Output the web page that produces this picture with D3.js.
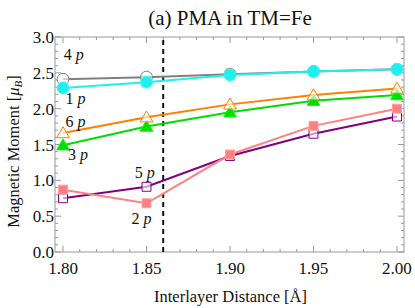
<!DOCTYPE html>
<html>
<head>
<meta charset="utf-8">
<script src="https://cdn.jsdelivr.net/npm/d3@7"></script>
<style>
  body { margin: 0; background: #fff; }
</style>
</head>
<body>
<div id="chart"></div>
<script>
// Interlayer distances (x) and per-layer moments
const distances = [1.80, 1.85, 1.90, 1.95, 2.00];
const p1 = [2.29, 2.37, 2.47, 2.52, 2.55];
const p2 = [0.87, 0.68, 1.36, 1.76, 2.00];
const p3 = [1.49, 1.75, 1.95, 2.11, 2.19];
const p4 = [2.41, 2.44, 2.48, 2.52, 2.55];
const p5 = [0.75, 0.91, 1.34, 1.65, 1.89];
const p6 = [1.66, 1.88, 2.06, 2.19, 2.28];
const xTicks = [1.80, 1.85, 1.90, 1.95, 2.00];
const yTicks = [0.0, 0.5, 1.0, 1.5, 2.0, 2.5, 3.0];
const criticalDistance = 1.86;

const width = 415, height = 308;
const margin = {top: 37, right: 11, bottom: 56, left: 55};

const svg = d3.select('#chart')
    .append('svg')
    .attr('width', width)
    .attr('height', height)
    .style('font-family', "'Liberation Serif', 'Times New Roman', 'DejaVu Serif', serif");

const x = d3.scaleLinear()
    .domain([1.7952, 2.0042])
    .range([margin.left, width - margin.right]);

const y = d3.scaleLinear()
    .domain([0, 3])
    .range([height - margin.bottom, margin.top]);

const frameColor = '#999';

// Frame
svg.append('rect')
    .attr('x', margin.left)
    .attr('y', margin.top)
    .attr('width', width - margin.left - margin.right)
    .attr('height', height - margin.top - margin.bottom)
    .attr('fill', 'none')
    .attr('stroke', frameColor)
    .attr('stroke-width', 1);

// Ticks (inward, mirrored on top/right)
const ticks = svg.append('g').attr('stroke', frameColor).attr('stroke-width', 1);
const xMinor = d3.range(180, 201).map(d => d / 100);
const yMinor = d3.range(0, 31).map(d => d / 10);
const x0 = margin.left, x1 = width - margin.right;
const y0 = height - margin.bottom, y1 = margin.top;

xMinor.forEach(v => {
    const major = xTicks.some(t => Math.abs(t - v) < 1e-6);
    const len = major ? 6 : 3;
    ticks.append('line').attr('x1', x(v)).attr('x2', x(v)).attr('y1', y0).attr('y2', y0 - len);
    ticks.append('line').attr('x1', x(v)).attr('x2', x(v)).attr('y1', y1).attr('y2', y1 + len);
});
yMinor.forEach(v => {
    const major = yTicks.some(t => Math.abs(t - v) < 1e-6);
    const len = major ? 6 : 3;
    ticks.append('line').attr('y1', y(v)).attr('y2', y(v)).attr('x1', x0).attr('x2', x0 + len);
    ticks.append('line').attr('y1', y(v)).attr('y2', y(v)).attr('x1', x1).attr('x2', x1 - len);
});

// Tick labels
svg.append('g')
    .selectAll('text')
    .data(xTicks)
    .join('text')
    .attr('x', d => x(d))
    .attr('y', y0 + 22)
    .attr('text-anchor', 'middle')
    .attr('font-size', 17)
    .attr('fill', '#111')
    .text(d => d.toFixed(2));

svg.append('g')
    .selectAll('text')
    .data(yTicks)
    .join('text')
    .attr('x', x0 - 1)
    .attr('y', d => y(d) + 6)
    .attr('text-anchor', 'end')
    .attr('font-size', 17)
    .attr('fill', '#111')
    .text(d => d.toFixed(1));

// Axis titles
svg.append('text')
    .attr('x', (x0 + x1) / 2 + 1)
    .attr('y', 302)
    .attr('text-anchor', 'middle')
    .attr('font-size', 16.5)
    .attr('fill', '#111')
    .text('Interlayer Distance [Å]');

const yl = svg.append('text')
    .attr('transform', `translate(19, ${(y0 + y1) / 2 + 7}) rotate(-90)`)
    .attr('text-anchor', 'middle')
    .attr('font-size', 16.5)
    .attr('fill', '#111');
yl.append('tspan').text('Magnetic Moment [');
yl.append('tspan').attr('font-style', 'italic').text('μ');
yl.append('tspan').attr('font-size', 11).attr('font-style', 'italic').attr('dy', 3).text('B');
yl.append('tspan').attr('dy', -3).text(']');

// Title
svg.append('text')
    .attr('x', 230)
    .attr('y', 25)
    .attr('text-anchor', 'middle')
    .attr('font-size', 21)
    .attr('fill', '#111')
    .text('(a) PMA in TM=Fe');

// Dashed critical line
svg.append('line')
    .attr('x1', x(criticalDistance))
    .attr('x2', x(criticalDistance))
    .attr('y1', y0)
    .attr('y2', y1)
    .attr('stroke', '#111')
    .attr('stroke-width', 2)
    .attr('stroke-dasharray', '5,4');

// Series
const series = [
    {name: '5', values: p5, color: '#800080', marker: 'square', fill: false},
    {name: '2', values: p2, color: '#ff8080', marker: 'square', fill: true},
    {name: '3', values: p3, color: '#00dd00', marker: 'triangle', fill: true},
    {name: '6', values: p6, color: '#ff8000', marker: 'triangle', fill: false},
    {name: '4', values: p4, color: '#808080', marker: 'circle', fill: false},
    {name: '1', values: p1, color: '#22eeee', marker: 'circle', fill: true}
];

const line = d3.line()
    .x(d => x(d[0]))
    .y(d => y(d[1]));

const symbolType = {circle: d3.symbolCircle, triangle: d3.symbolTriangle, square: d3.symbolSquare};
const symbolSize = {circle: 110, triangle: 70, square: 80};

series.forEach(s => {
    const pts = distances.map((d, i) => [d, s.values[i]]);
    svg.append('path')
        .datum(pts)
        .attr('d', line)
        .attr('fill', 'none')
        .attr('stroke', s.color)
        .attr('stroke-width', 2);
});

series.forEach(s => {
    const pts = distances.map((d, i) => [d, s.values[i]]);
    svg.append('g')
        .selectAll('path')
        .data(pts)
        .join('path')
        .attr('transform', d => `translate(${x(d[0])},${y(d[1]) + (s.marker === 'triangle' ? 1 : 0)})`)
        .attr('d', d3.symbol().type(symbolType[s.marker]).size(symbolSize[s.marker]))
        .attr('fill', s.fill ? s.color : '#fff')
        .attr('fill-opacity', s.fill ? 1 : 0.6)
        .attr('stroke', s.fill ? d3.color(s.color).brighter(0.6) : s.color)
        .attr('stroke-width', 1);
});

// Layer labels
const layerLabels = [
    {name: '4', x: 1.8005, y: 2.68},
    {name: '1', x: 1.8015, y: 2.07},
    {name: '6', x: 1.8015, y: 1.75},
    {name: '3', x: 1.803, y: 1.29},
    {name: '5', x: 1.843, y: 1.03},
    {name: '2', x: 1.841, y: 0.39}
];
const lbl = svg.append('g')
    .selectAll('text')
    .data(layerLabels)
    .join('text')
    .attr('x', d => x(d.x))
    .attr('y', d => y(d.y))
    .attr('font-size', 16)
    .attr('fill', '#111');
lbl.append('tspan').text(d => d.name + ' ');
lbl.append('tspan').attr('font-style', 'italic').text('p');
</script>
</body>
</html>
